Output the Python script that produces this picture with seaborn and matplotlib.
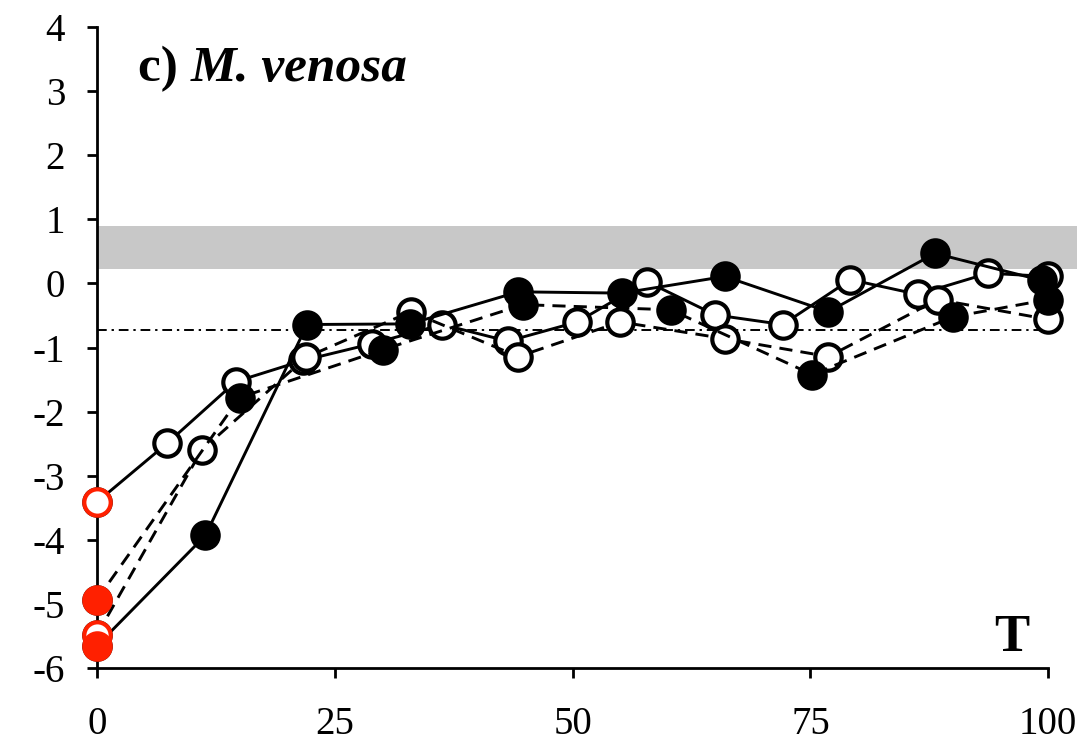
import matplotlib
matplotlib.use("Agg")
import matplotlib.pyplot as plt
import seaborn as sns

# solid line, open circles
x_solid_open = [0, 7.4, 14.6, 21.7, 28.9, 36.3, 43.2, 50.5, 57.8, 65, 72.1, 79.2, 86.3, 93.7, 100]
y_solid_open = [-3.41, -2.49, -1.53, -1.2, -0.94, -0.64, -0.9, -0.6, 0.03, -0.49, -0.64, 0.06, -0.17, 0.16, 0.11]

# solid line, filled circles
x_solid_fill = [0, 11.4, 22.1, 32.9, 44.3, 55.2, 66, 76.9, 88.1, 99.3]
y_solid_fill = [-5.65, -3.93, -0.64, -0.63, -0.13, -0.15, 0.11, -0.44, 0.47, 0.05]

# dashed line, filled circles
x_dash_fill = [0, 15, 30.1, 44.8, 60.3, 75.2, 90, 100]
y_dash_fill = [-4.93, -1.78, -1.03, -0.33, -0.41, -1.42, -0.52, -0.25]

# dashed line, open circles
x_dash_open = [0, 11, 22, 33, 44.3, 55, 66, 76.9, 88.4, 100]
y_dash_open = [-5.48, -2.6, -1.15, -0.44, -1.14, -0.6, -0.86, -1.14, -0.25, -0.56]

band = (0.23, 0.89)
ref_level = -0.72
x_ticks = [0, 25, 50, 75, 100]
y_ticks = list(range(-6, 5))

plt.rcParams['font.family'] = ['Liberation Serif', 'DejaVu Serif']
plt.rcParams['axes.unicode_minus'] = False

fig = plt.figure(figsize=(10.91, 7.44), dpi=100)
ax = fig.add_axes([0.0889, 0.102, 0.898, 0.8616])

red = '#ff2000'
ms = 19
mew = 3
lw = 2.1
dash = (0, (4.5, 2.8))

ax.axhspan(band[0], band[1], color='#c8c8c8', lw=0, zorder=0)
ax.axhline(ref_level, xmin=0, xmax=100 / 103, color='black', lw=1.4,
           linestyle=(0, (5, 2.5, 1.2, 2.5)), zorder=1)

common = dict(ax=ax, color='black', lw=lw, marker='o', markersize=ms,
              markeredgecolor='black', markeredgewidth=mew,
              errorbar=None, clip_on=False)

sns.lineplot(x=x_solid_open, y=y_solid_open, linestyle='-',
             markerfacecolor='white', zorder=3, **common)
sns.lineplot(x=x_dash_open, y=y_dash_open, linestyle=dash,
             markerfacecolor='white', zorder=3, **common)
sns.lineplot(x=x_dash_fill, y=y_dash_fill, linestyle=dash,
             markerfacecolor='black', zorder=4, **common)
sns.lineplot(x=x_solid_fill, y=y_solid_fill, linestyle='-',
             markerfacecolor='black', zorder=4, **common)

# red starting points at T = 0
s = ms ** 2
sns.scatterplot(x=[x_solid_open[0]], y=[y_solid_open[0]], ax=ax, s=s, marker='o',
                color='white', edgecolor=red, linewidth=mew, zorder=6, clip_on=False)
sns.scatterplot(x=[x_dash_fill[0]], y=[y_dash_fill[0]], ax=ax, s=s, marker='o',
                color=red, edgecolor=red, linewidth=mew, zorder=6, clip_on=False)
sns.scatterplot(x=[x_dash_open[0]], y=[y_dash_open[0]], ax=ax, s=s, marker='o',
                color='white', edgecolor=red, linewidth=mew, zorder=6, clip_on=False)
sns.scatterplot(x=[x_solid_fill[0]], y=[y_solid_fill[0]], ax=ax, s=s, marker='o',
                color=red, edgecolor=red, linewidth=mew, zorder=7, clip_on=False)

ax.set_xlim(0, 103)
ax.set_ylim(-6, 4)
ax.set_xticks(x_ticks)
ax.set_yticks(y_ticks)
ax.set_xlabel('')
ax.set_ylabel('')
ax.tick_params(direction='out', length=7, width=2, labelsize=28)
ax.tick_params(axis='y', pad=16)
ax.tick_params(axis='x', pad=20)
for side in ['top', 'right']:
    ax.spines[side].set_visible(False)
for side in ['left', 'bottom']:
    ax.spines[side].set_linewidth(2)
ax.spines['bottom'].set_bounds(0, 100)

t1 = ax.text(4.3, 3.16, 'c) ', fontsize=37, fontweight='bold', ha='left', va='baseline')
ax.annotate('M. venosa', xy=(1, 0), xycoords=t1, fontsize=37, fontweight='bold',
            fontstyle='italic', ha='left', va='bottom')
ax.text(96.2, -5.73, 'T', fontsize=38, fontweight='bold', ha='center', va='baseline')

fig.savefig('out.png', dpi=100)
